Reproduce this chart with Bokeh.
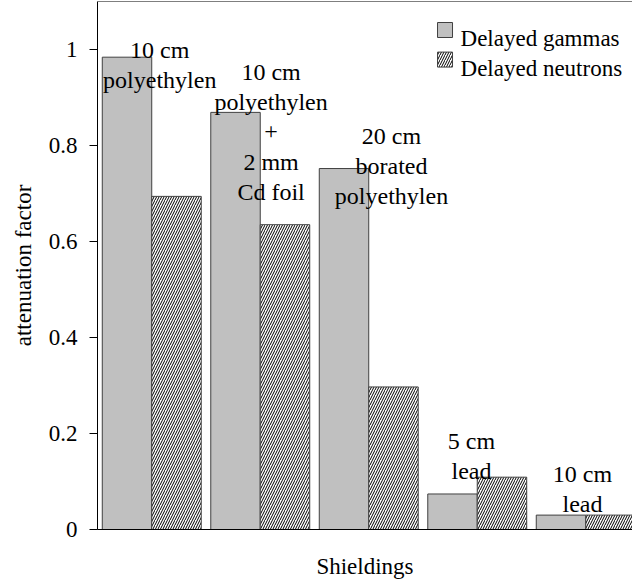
from bokeh.plotting import figure
from bokeh.models import ColumnDataSource, Range1d, FixedTicker, Span
from bokeh.core.properties import value
from bokeh.embed import file_html
from bokeh.resources import INLINE

# Attenuation of delayed radiation behind different shieldings
shieldings = ["10 cm polyethylen",
              "10 cm polyethylen + 2 mm Cd foil",
              "20 cm borated polyethylen",
              "5 cm lead",
              "10 cm lead"]
delayed_gammas = [0.984, 0.869, 0.752, 0.074, 0.030]
delayed_neutrons = [0.694, 0.635, 0.297, 0.109, 0.030]
series_names = ["Delayed gammas", "Delayed neutrons"]

# Text lines written above each pair of bars
label_lines = [["10 cm", "polyethylen"],
               ["10 cm", "polyethylen", "+", "2 mm", "Cd foil"],
               ["20 cm", "borated", "polyethylen"],
               ["5 cm", "lead"],
               ["10 cm", "lead"]]

y_ticks = [0, 0.2, 0.4, 0.6, 0.8, 1]

FONT = "Liberation Serif"

# anchor of each group's text block (data units) and line pitch
label_x = [0.074, 1.10, 2.21, 2.947, 3.97]
label_top = [1.000, 0.954, 0.819, 0.185, 0.115]
line_pitch = 0.0625

# key placement (data units)
key_x = 2.703
key_text_x = 2.846
key_y = [1.0406, 0.979]
key_text_y = [1.023, 0.960]

idx = list(range(len(shieldings)))
bar_w = 0.456
src = ColumnDataSource(dict(
    xg=[i - bar_w / 2 for i in idx],
    xn=[i + bar_w / 2 for i in idx],
    gam=delayed_gammas,
    neu=delayed_neutrons,
))

p = figure(width=632, height=587, output_backend="svg", toolbar_location=None,
           x_range=Range1d(-0.5, 4.431), y_range=Range1d(0, 1.1),
           min_border_left=97, min_border_right=0, min_border_top=1,
           min_border_bottom=58)
p.outline_line_color = None
p.xgrid.grid_line_color = None
p.ygrid.grid_line_color = None

gamma_style = dict(fill_color="#c0c0c0", line_color="#404040", line_width=1)
neutron_style = dict(fill_color="white", line_color="#404040", line_width=1,
                     hatch_pattern="/", hatch_color="black", hatch_scale=5,
                     hatch_weight=1)

p.vbar(x="xg", top="gam", width=bar_w, source=src, **gamma_style)
p.vbar(x="xn", top="neu", width=bar_w, source=src, **neutron_style)

# group annotations
tx, ty, tt = [], [], []
for gx, top, lines in zip(label_x, label_top, label_lines):
    for k, line in enumerate(lines):
        tx.append(gx)
        ty.append(top - k * line_pitch)
        tt.append(line)
p.text(x=tx, y=ty, text=tt, text_align="center", text_baseline="alphabetic",
       text_font=value(FONT), text_font_size="24px", text_color="black")

# key: swatches and names
p.rect(x=[key_x], y=[key_y[0]], width=15, height=15, width_units="screen",
       height_units="screen", **gamma_style)
p.rect(x=[key_x], y=[key_y[1]], width=15, height=15, width_units="screen",
       height_units="screen", **neutron_style)
p.text(x=[key_text_x, key_text_x], y=key_text_y, text=series_names,
       text_align="left", text_baseline="alphabetic", text_font=value(FONT),
       text_font_size="23px", text_color="black")

# y axis
ya = p.yaxis[0]
ya.ticker = FixedTicker(ticks=y_ticks)
ya.major_label_overrides = {0: "0", 1: "1"}
ya.major_tick_out = 8
ya.major_tick_in = 0
ya.minor_tick_out = 0
ya.minor_tick_in = 0
ya.major_label_standoff = 12
ya.major_label_text_font = FONT
ya.major_label_text_font_size = "23px"
ya.major_label_text_color = "black"
ya.axis_label = "attenuation factor"
ya.axis_label_text_font = FONT
ya.axis_label_text_font_size = "23px"
ya.axis_label_text_font_style = "normal"
ya.axis_label_text_color = "black"
ya.axis_label_standoff = 10
ya.axis_line_color = "black"
ya.major_tick_line_color = "black"

# x axis: line only, with a title
xa = p.xaxis[0]
xa.ticker = FixedTicker(ticks=[])
xa.major_tick_out = 0
xa.major_tick_in = 0
xa.minor_tick_out = 0
xa.minor_tick_in = 0
xa.major_label_text_font = FONT
xa.major_label_standoff = 0
xa.axis_label = "Shieldings"
xa.axis_label_text_font = FONT
xa.axis_label_text_font_size = "23px"
xa.axis_label_text_font_style = "normal"
xa.axis_label_text_color = "black"
xa.axis_label_standoff = 24
xa.axis_line_color = "black"

# top frame line
p.add_layout(Span(location=1.1, dimension="width", line_color="black",
                  line_width=1))

open("out.html", "w").write(file_html(p, INLINE))
